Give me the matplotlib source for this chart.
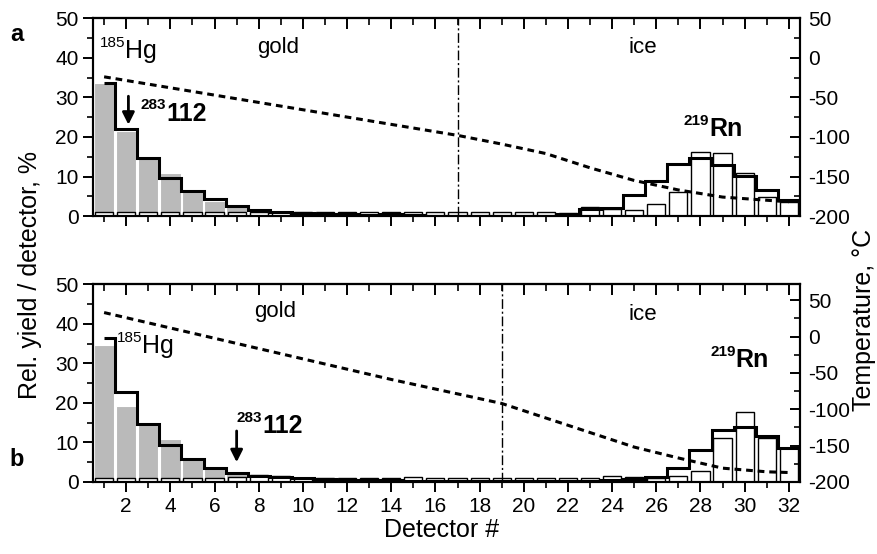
import numpy as np
import matplotlib.pyplot as plt

plt.rcParams['font.family'] = ['Liberation Sans', 'DejaVu Sans']
plt.rcParams['axes.linewidth'] = 1.5
plt.rcParams['axes.unicode_minus'] = False

detectors = np.arange(1, 33)

# panel a: measured 185Hg (grey), measured 219Rn (open), simulation (thick step)
hg_a = [33.7, 21.6, 14.6, 11.0, 6.1, 3.8, 2.7, 1.6, 1.0, 0.6, 0.4, 0.3, 0.3, 0.2,
        0.1, 0.1, 0, 0, 0, 0, 0, 0, 0, 0, 0, 0, 0, 0, 0, 0, 0, 0]
rn_a = [1.1, 1.0, 1.1, 1.1, 1.0, 1.1, 1.0, 1.1, 1.0, 1.1, 1.0, 1.1, 1.0, 0.9,
        1.0, 1.1, 1.0, 1.0, 1.1, 1.0, 1.1, 0.8, 2.3, 1.7, 1.6, 3.1, 6.1, 16.3,
        15.9, 11.0, 4.8, 3.6]
sim_a = [33.7, 22.0, 14.8, 9.6, 6.3, 4.2, 2.5, 1.6, 1.0, 0.7, 0.5, 0.4, 0.3, 0.5,
         0.2, 0.1, 0.1, 0.1, 0.1, 0.1, 0.1, 0.4, 1.8, 2.0, 5.2, 8.8, 13.2, 14.7,
         13.0, 10.2, 6.6, 4.0]
temp_det_a = [1, 17, 19, 21, 23, 25, 27, 29, 31, 32]
temp_a = [-24, -98, -109, -121, -139, -155, -167, -176, -180, -182]

# panel b
hg_b = [34.6, 19.3, 14.4, 10.8, 5.6, 3.4, 2.0, 1.2, 0.6, 0.4, 0.3, 0.2, 0.1, 0.1,
        0, 0, 0, 0, 0, 0, 0, 0, 0, 0, 0, 0, 0, 0, 0, 0, 0, 0]
rn_b = [1.1, 1.1, 1.1, 1.1, 1.1, 1.1, 1.2, 1.8, 1.5, 1.1, 1.1, 1.0, 1.0, 1.1,
        1.2, 1.1, 1.1, 1.1, 1.1, 1.1, 1.1, 1.1, 0.9, 1.5, 1.2, 0.9, 1.5, 2.8,
        11.0, 17.8, 11.0, 8.7]
sim_b = [36.3, 22.8, 14.6, 9.3, 5.8, 3.6, 2.2, 1.6, 1.2, 0.9, 0.7, 0.5, 0.4, 0.4,
         0.3, 0.3, 0.2, 0.2, 0.2, 0.2, 0.2, 0.2, 0.3, 0.5, 0.8, 1.3, 3.5, 8.0,
         13.2, 13.8, 11.7, 8.7]
temp_det_b = [1, 14, 19, 21, 23, 25, 27, 29, 31, 32]
temp_b = [33, -59, -92, -112, -132, -152, -167, -181, -186, -187]

boundary = [17, 19]
temp_top = [50, 72]


def isotope(ax, x, y, mass, sym, size, sup, bold=False):
    w = 'bold' if bold else 'normal'
    ax.annotate(mass, (x, y), xytext=(0, size * 0.45), textcoords='offset points',
                fontsize=sup, fontweight=w, ha='right', va='baseline')
    ax.text(x, y, sym, fontsize=size, fontweight=w, ha='left', va='baseline')


fig = plt.figure(figsize=(8.78, 5.54), dpi=100)
rects = [[0.106, 0.610, 0.805, 0.357], [0.106, 0.130, 0.805, 0.357]]
panels = [(hg_a, rn_a, sim_a, temp_det_a, temp_a),
          (hg_b, rn_b, sim_b, temp_det_b, temp_b)]

axes = []
for i, (hg, rn, sim, tdet, tval) in enumerate(panels):
    ax = fig.add_axes(rects[i])
    ax.bar(detectors, hg, width=0.92, color='#bababa', edgecolor='white', linewidth=0.8, zorder=1)
    ax.bar(detectors, rn, width=0.82, facecolor='white', edgecolor='black', linewidth=1.0, zorder=2)
    edges = np.append(detectors - 0.5, detectors[-1] + 0.5)
    edges[0] = detectors[0]
    ax.stairs(sim, edges, color='black', linewidth=2.2, baseline=None, zorder=3)
    ax.axvline(boundary[i], color='black', linestyle=(0, (7, 2, 1.5, 2)), linewidth=1.0, zorder=4)

    ax.set_xlim(0.5, 32.5)
    ax.set_ylim(0, 50)
    ax.set_xticks(range(2, 33, 2))
    ax.set_xticks(detectors, minor=True)
    ax.set_yticks(range(0, 51, 10))
    ax.set_yticks(range(0, 51, 5), minor=True)
    ax.tick_params(which='major', direction='out', length=7, width=1.4, labelsize=15, right=False, top=False)
    ax.tick_params(which='minor', direction='out', length=4, width=1.2, right=False, top=False)
    if i == 0:
        ax.tick_params(axis='x', labelbottom=False)

    sec = ax.secondary_xaxis('top')
    sec.set_xticks(range(2, 33, 2))
    sec.set_xticks(detectors, minor=True)
    sec.tick_params(which='major', direction='in', length=8, width=1.4, labeltop=False)
    sec.tick_params(which='minor', direction='in', length=5, width=1.2)

    axr = ax.twinx()
    axr.plot(tdet, tval, color='black', linestyle=(0, (2.2, 1.6)), linewidth=2.2)
    axr.set_ylim(-200, temp_top[i])
    axr.set_yticks(range(-200, 51, 50))
    axr.set_yticks(range(-200, temp_top[i] + 1, 25), minor=True)
    axr.tick_params(which='major', direction='in', length=7, width=1.4, labelsize=15, pad=6)
    axr.tick_params(which='minor', direction='in', length=4, width=1.2)
    axes.append(ax)

ax_a, ax_b = axes

# panel a annotations
isotope(ax_a, 1.95, 40.0, '185', 'Hg', 18, 11)
isotope(ax_a, 3.81, 24.1, '283', '112', 18, 11, bold=True)
isotope(ax_a, 28.39, 20.3, '219', 'Rn', 18, 11, bold=True)
ax_a.text(8.9, 41.3, 'gold', fontsize=16, ha='center', va='baseline')
ax_a.text(25.4, 41.1, 'ice', fontsize=16, ha='center', va='baseline')
ax_a.annotate('', xy=(2.1, 22.4), xytext=(2.1, 31.0),
              arrowprops=dict(arrowstyle='-|>', color='black', lw=2, mutation_scale=18))

# panel b annotations
isotope(ax_b, 2.71, 32.5, '185', 'Hg', 18, 11)
isotope(ax_b, 8.15, 12.3, '283', '112', 18, 11, bold=True)
isotope(ax_b, 29.6, 29.1, '219', 'Rn', 18, 11, bold=True)
ax_b.text(8.76, 41.7, 'gold', fontsize=16, ha='center', va='baseline')
ax_b.text(25.4, 40.9, 'ice', fontsize=16, ha='center', va='baseline')
ax_b.annotate('', xy=(7.0, 4.3), xytext=(7.0, 13.6),
              arrowprops=dict(arrowstyle='-|>', color='black', lw=2, mutation_scale=18))

fig.text(0.019, 0.938, 'a', fontsize=17, fontweight='bold', ha='center', va='center')
fig.text(0.019, 0.17, 'b', fontsize=17, fontweight='bold', ha='center', va='center')
fig.text(0.034, 0.504, 'Rel. yield / detector, %', fontsize=18, rotation=90, ha='center', va='center')
fig.text(0.984, 0.422, 'Temperature, °C', fontsize=18, rotation=90, ha='center', va='center')
fig.text(0.503, 0.043, 'Detector #', fontsize=18, ha='center', va='center')

fig.savefig('out.png', dpi=100)
